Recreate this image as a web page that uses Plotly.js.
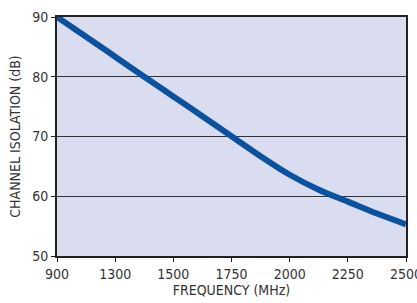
<!DOCTYPE html>
<html><head><meta charset="utf-8">
<script src="https://cdn.plot.ly/plotly-3.0.1.min.js"></script>
<style>html,body{margin:0;padding:0;background:#fff;overflow:hidden}#c{width:417px;height:303px}</style>
</head><body><div id="c"></div>
<script>
// tick labels (equally spaced on the original chart)
const tickLabels = ['900','1300','1500','1750','2000','2250','2500'];
// curve sampled at positions measured in tick intervals
const xPos = [0, 0.5, 1, 1.5, 2, 2.5, 3, 3.5, 4, 4.5, 5, 5.5, 6];
const isolation = [90, 86.7, 83.35, 80.0, 76.7, 73.4, 70.05, 66.7, 63.6, 61.1, 59.1, 57.1, 55.3];
const yTicks = [50, 60, 70, 80, 90];

const font = {family: '"DejaVu Sans Condensed", "Liberation Sans Narrow", sans-serif', size: 14, color: '#333'};
Plotly.newPlot('c', [{
  x: xPos, y: isolation, mode: 'lines',
  line: {color: '#0a52a0', width: 6, shape: 'spline', smoothing: 1},
  hoverinfo: 'skip'
}], {
  width: 417, height: 303,
  margin: {l: 57, r: 11, t: 17, b: 47},
  paper_bgcolor: '#fff', plot_bgcolor: '#d9ddef',
  font: font, showlegend: false,
  xaxis: {
    range: [0, 6], tickmode: 'array', tickvals: tickLabels.map((_, i) => i), ticktext: tickLabels,
    showgrid: false, zeroline: false, ticks: 'outside', ticklen: 4, tickcolor: '#222',
    ticklabeloverflow: 'allow',
    showline: true, linecolor: '#222', linewidth: 2, mirror: true,
    automargin: false,
    title: {text: 'FREQUENCY (MHz)', font: font, standoff: 4}
  },
  yaxis: {
    range: [50, 90], tickmode: 'array', tickvals: yTicks,
    showgrid: true, gridcolor: '#333', gridwidth: 1, zeroline: false,
    ticks: 'outside', ticklen: 4, tickcolor: '#222',
    showline: true, linecolor: '#222', linewidth: 2, mirror: true,
    automargin: false,
    title: {text: 'CHANNEL ISOLATION (dB)', font: font, standoff: 8}
  }
}, {staticPlot: true, displayModeBar: false});
</script></body></html>
